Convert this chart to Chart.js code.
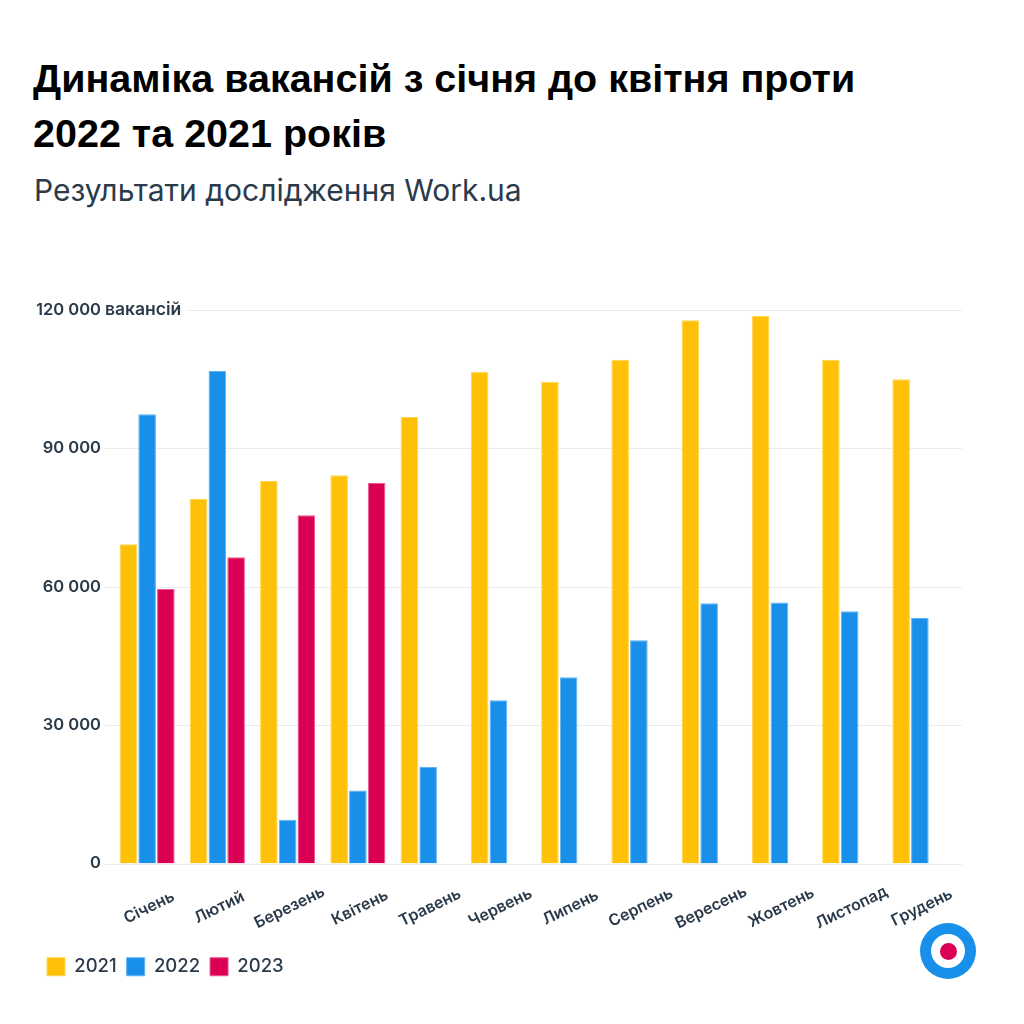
<!DOCTYPE html>
<html lang="uk">
<head>
<meta charset="utf-8">
<script src="https://cdn.jsdelivr.net/npm/chart.js@4.4.1/dist/chart.umd.min.js"></script>
<style>
  html, body { margin: 0; padding: 0; background: #fff; }
  #wrap { position: relative; width: 1024px; height: 1024px; overflow: hidden; }
  #chart { position: absolute; left: 0; top: 0; }
  h1 {
    position: absolute; left: 33px; top: 51px; margin: 0;
    font: bold 39.5px "Liberation Sans", Arial, sans-serif;
    line-height: 55px; color: #000;
  }
  .sub {
    position: absolute; left: 34px; top: 172px; margin: 0;
    font: 400 30px Inter, "Noto Sans", sans-serif; color: #2b3a4b;
  }
  .logo {
    position: absolute; left: 920px; top: 923px; width: 56px; height: 56px;
    border-radius: 50%; background: #1890ea;
  }
  .logo i {
    position: absolute; left: 11px; top: 11px; width: 34px; height: 34px;
    border-radius: 50%; background: #fff;
  }
  .logo b {
    position: absolute; left: 19.5px; top: 19.5px; width: 17px; height: 17px;
    border-radius: 50%; background: #dc0055;
  }
</style>
</head>
<body>
<div id="wrap">
  <h1>Динаміка вакансій з січня до квітня проти<br>2022 та 2021 років</h1>
  <div class="sub">Результати дослідження Work.ua</div>
  <canvas id="chart" width="1024" height="1024"></canvas>
  <div class="logo"><i></i><b></b></div>
</div>
<script>
"use strict";

/*-- data --*/
var months = ["Січень", "Лютий", "Березень", "Квітень", "Травень", "Червень",
  "Липень", "Серпень", "Вересень", "Жовтень", "Листопад", "Грудень"];
var years = ["2021", "2022", "2023"];
var vac2021 = [69200, 79000, 82900, 84200, 96800, 106600, 104400, 109200, 117800, 118700, 109200, 105000];
var vac2022 = [97400, 106800, 9500, 15800, 21000, 35400, 40400, 48400, 56400, 56600, 54700, 53200];
var vac2023 = [59500, 66400, 75500, 82500];
var yTicks = [0, 30000, 60000, 90000, 120000];

var textColor = '#2b3a4b';

/*-- grid lines a bit wider than the plot --*/
var wideGrid = {
  id: 'wideGrid',
  beforeDatasetsDraw: function (chart) {
    var ctx = chart.ctx, area = chart.chartArea, ys = chart.scales.y;
    ctx.save();
    ctx.strokeStyle = '#ebebeb';
    ctx.lineWidth = 1;
    yTicks.forEach(function (v) {
      var y = Math.round(ys.getPixelForValue(v)) + 0.5;
      ctx.beginPath();
      ctx.moveTo(area.left - 7, y);
      ctx.lineTo(area.right + 7, y);
      ctx.stroke();
    });
    ctx.restore();
  }
};

/*-- month labels, rotated and centred under each group --*/
var monthLabels = {
  id: 'monthLabels',
  afterDraw: function (chart) {
    var ctx = chart.ctx, xs = chart.scales.x, bottom = chart.chartArea.bottom;
    ctx.save();
    ctx.font = '600 16px Inter';
    ctx.fillStyle = textColor;
    ctx.textAlign = 'center';
    ctx.textBaseline = 'middle';
    months.forEach(function (m, i) {
      ctx.save();
      ctx.translate(xs.getPixelForTick(i) + 2, bottom + 44);
      ctx.rotate(-26 * Math.PI / 180);
      ctx.fillText(m, 0, 0);
      ctx.restore();
    });
    ctx.restore();
  }
};

/*-- "вакансій" after the top tick --*/
var unitLabel = {
  id: 'unitLabel',
  afterDraw: function (chart) {
    var ctx = chart.ctx;
    var y = chart.scales.y.getPixelForValue(yTicks[yTicks.length - 1]);
    var x = chart.chartArea.left - 7;
    ctx.save();
    ctx.font = '600 17.5px Inter';
    var w = ctx.measureText('вакансій').width;
    ctx.fillStyle = '#fff';
    ctx.fillRect(x - 2, y - 10, w + 8, 20);
    ctx.fillStyle = textColor;
    ctx.textBaseline = 'middle';
    ctx.textAlign = 'left';
    ctx.fillText('вакансій', x, y);
    ctx.restore();
  }
};

new Chart(document.getElementById('chart').getContext('2d'), {
  type: 'bar',
  data: {
    labels: months,
    datasets: [{
      label: years[0],
      data: vac2021,
      backgroundColor: '#ffc107',
      borderColor: '#ffd54f',
      borderWidth: 1
    }, {
      label: years[1],
      data: vac2022,
      backgroundColor: '#1890ea',
      borderColor: '#5cb2f2',
      borderWidth: 1
    }, {
      label: years[2],
      data: vac2023,
      backgroundColor: '#dc0055',
      borderColor: '#e85a8a',
      borderWidth: 1
    }]
  },
  options: {
    responsive: false,
    animation: false,
    categoryPercentage: 0.8,
    barPercentage: 0.94,
    layout: { padding: { top: 310, left: 37, right: 69, bottom: 38 } },
    plugins: {
      tooltip: { enabled: false },
      legend: {
        position: 'bottom',
        align: 'start',
        labels: {
          boxWidth: 18,
          boxHeight: 18,
          padding: 10,
          color: textColor,
          font: { family: 'Inter', size: 18.5, weight: '500' }
        }
      }
    },
    scales: {
      x: {
        grid: { display: false },
        border: { display: false },
        ticks: { display: false },
        afterFit: function (s) { s.height = 84; }
      },
      y: {
        min: 0,
        max: 120000,
        afterBuildTicks: function (s) {
          s.ticks = yTicks.map(function (v) { return { value: v }; });
        },
        grid: { display: false, drawTicks: false },
        border: { display: false },
        ticks: {
          color: textColor,
          padding: 11,
          font: { family: 'Inter', size: 16.5, weight: '600' },
          callback: function (v) {
            return String(v).replace(/\B(?=(\d{3})+(?!\d))/g, ' ');
          }
        },
        afterFit: function (s) { s.width = 75; }
      }
    }
  },
  plugins: [wideGrid, monthLabels, unitLabel]
});
</script>
</body>
</html>
